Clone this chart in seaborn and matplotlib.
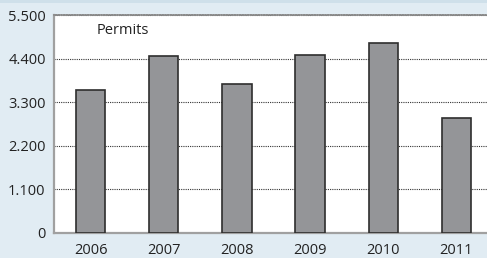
import matplotlib
matplotlib.use("Agg")
import matplotlib.pyplot as plt
from matplotlib.ticker import FixedLocator, FuncFormatter
import seaborn as sns
import pandas as pd

years = ["2006", "2007", "2008", "2009", "2010", "2011"]
permits = [3600, 4470, 3760, 4490, 4790, 2910]
y_ticks = [0, 1100, 2200, 3300, 4400, 5500]

bg = "#e1ecf3"
sns.set_style("white")
plt.rcParams["font.family"] = ["Open Sans", "DejaVu Sans"]

df = pd.DataFrame({"year": years, "permits": permits})

fig = plt.figure(figsize=(4.87, 2.58), dpi=100, facecolor=bg)
# darker strip at the very top
fig.patches.append(plt.Rectangle((0, 0.988), 1, 0.012, transform=fig.transFigure,
                                 facecolor="#cfe0ea", edgecolor="none", zorder=0))
ax = fig.add_axes([54 / 487, 25 / 258, 439 / 487, 218 / 258])
ax.set_facecolor("white")

sns.barplot(data=df, x="year", y="permits", color="#949598", saturation=1,
            width=0.4, edgecolor="#2e2e2e", linewidth=1.2, ax=ax, zorder=3)

ax.set_xlim(-0.5, len(years) - 0.5)
ax.set_ylim(0, 5500)
ax.yaxis.set_major_locator(FixedLocator(y_ticks))
ax.yaxis.set_major_formatter(FuncFormatter(lambda v, p: f"{v:,.0f}".replace(",", ".")))
ax.grid(axis="y", color="#333333", linestyle=(0, (1, 1)), linewidth=0.8, zorder=1)
ax.set_axisbelow(True)

ax.set_xticks(range(len(years)))
ax.set_xticks([i - 0.5 for i in range(len(years) + 1)], minor=True)
ax.tick_params(axis="x", which="major", length=0, labelsize=10.5, colors="#222222", pad=7)
ax.tick_params(axis="x", which="minor", length=4, width=1.2, color="#a0a0a0", direction="out")
ax.tick_params(axis="y", which="major", length=0, labelsize=10.5, colors="#222222", pad=6)

for side in ["left", "bottom"]:
    ax.spines[side].set_color("#a0a0a0")
    ax.spines[side].set_linewidth(1.6)
ax.spines["top"].set_color("#8a8a8a")
ax.spines["top"].set_linestyle((0, (1, 0.6)))
ax.spines["top"].set_linewidth(1.2)
ax.spines["right"].set_visible(False)

ax.set_xlabel("")
ax.set_ylabel("")
ax.text(0.098, 0.93, "Permits", transform=ax.transAxes, fontsize=10.5,
        color="#222222", va="center", ha="left")

fig.savefig("out.png", dpi=100, facecolor=bg)
